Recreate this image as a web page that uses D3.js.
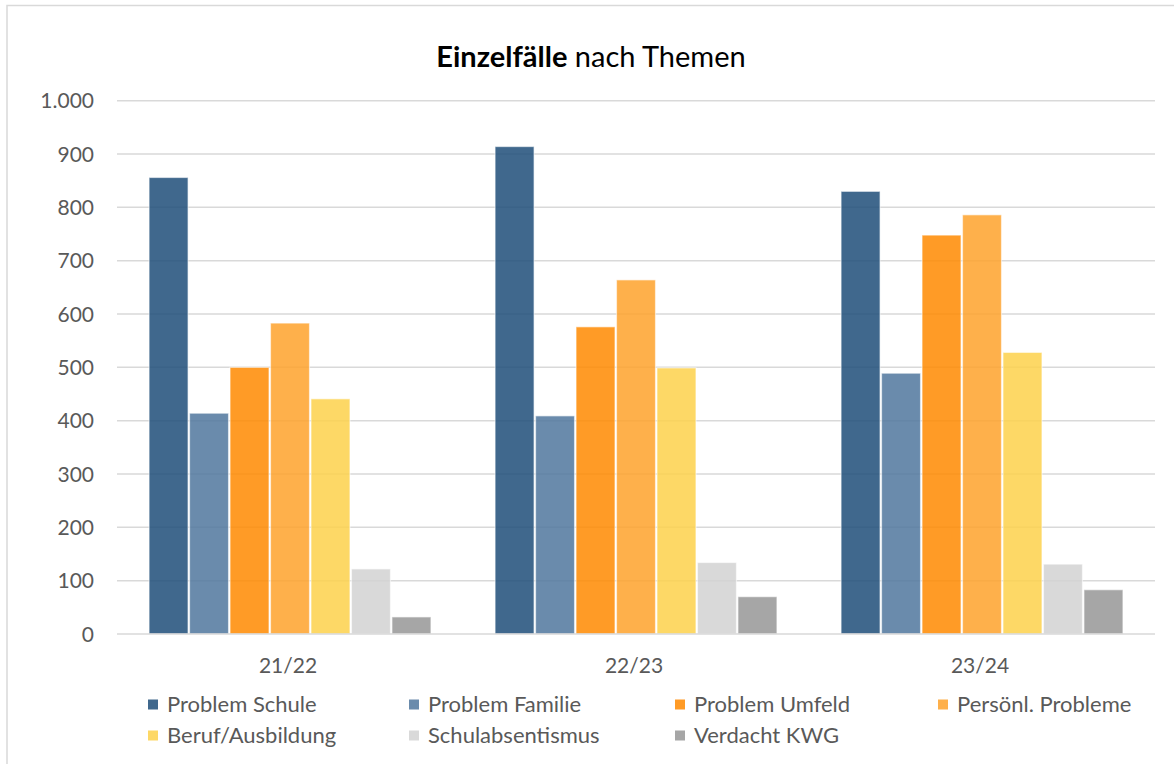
<!DOCTYPE html>
<html>
<head>
<meta charset="utf-8">
<script src="https://cdn.jsdelivr.net/npm/d3@7"></script>
<style>
  html, body { margin: 0; padding: 0; background: #fff; }
  svg { display: block; font-family: Lato, "Open Sans", sans-serif; }
</style>
</head>
<body>
<svg id="chart" width="1174" height="764"></svg>
<script>
const categories = ["21/22", "22/23", "23/24"];
const seriesNames = ["Problem Schule", "Problem Familie", "Problem Umfeld", "Persönl. Probleme", "Beruf/Ausbildung", "Schulabsentismus", "Verdacht KWG"];
const problemSchule   = [856, 914, 830];
const problemFamilie  = [414, 409, 489];
const problemUmfeld   = [500, 576, 748];
const persoenlProbleme= [583, 664, 786];
const berufAusbildung = [441, 499, 528];
const schulabsentismus= [122, 134, 131];
const verdachtKWG     = [32, 70, 83];
const yTicks = [0, 100, 200, 300, 400, 500, 600, 700, 800, 900, 1000];
const colors = ["#1F4E79", "#50779E", "#FF8A00", "#FEA22C", "#FDD14B", "#D2D2D2", "#969696"];

const seriesValues = [problemSchule, problemFamilie, problemUmfeld, persoenlProbleme, berufAusbildung, schulabsentismus, verdachtKWG];
const data = categories.map((c, i) => ({
  cat: c,
  vals: seriesNames.map((s, j) => ({ name: s, value: seriesValues[j][i], idx: j }))
}));

const svg = d3.select("#chart");
const plotLeft = 117, plotRight = 1155, plotTop = 100.7, plotBottom = 634;

// chart area border
svg.append("path")
  .attr("d", `M7,770 V5.5 H1180`)
  .attr("fill", "none").attr("stroke", "#d9d9d9").attr("stroke-width", 1.5);

const y = d3.scaleLinear().domain([0, 1000]).range([plotBottom, plotTop]);
const x0 = d3.scaleBand().domain(categories).range([plotLeft, plotRight]).padding(0);
const bw = x0.bandwidth();
const x1 = d3.scaleBand().domain(seriesNames).range([bw * 0.0905, bw * (1 - 0.0905)]).padding(0);

// gridlines
svg.append("g").selectAll("line").data(yTicks.filter(t => t > 0)).join("line")
  .attr("x1", plotLeft).attr("x2", plotRight)
  .attr("y1", d => y(d)).attr("y2", d => y(d))
  .attr("stroke", "#d9d9d9").attr("stroke-width", 1.5);

// y labels
const fmt = d3.format(",");
svg.append("g").selectAll("text").data(yTicks).join("text")
  .attr("x", 94).attr("y", d => y(d)).attr("dy", "0.36em")
  .attr("text-anchor", "end").attr("fill", "#595959")
  .attr("font-size", 21)
  .text(d => fmt(d).replace(/,/g, "."));

// bars
const groups = svg.append("g").selectAll("g").data(data).join("g")
  .attr("transform", d => `translate(${x0(d.cat)},0)`);
groups.selectAll("rect").data(d => d.vals).join("rect")
  .attr("x", d => x1(d.name) + 0.75)
  .attr("width", x1.bandwidth() - 1.5)
  .attr("y", d => y(d.value))
  .attr("height", d => y(0) - y(d.value))
  .attr("fill", d => colors[d.idx]).attr("fill-opacity", 0.85)
  .attr("stroke", "#fff").attr("stroke-opacity", 0.55).attr("stroke-width", 1.2);

// baseline axis
svg.append("line").attr("x1", plotLeft).attr("x2", plotRight)
  .attr("y1", y(0)).attr("y2", y(0))
  .attr("stroke", "#d9d9d9").attr("stroke-width", 1.5);

// x labels
svg.append("g").selectAll("text").data(categories).join("text")
  .attr("x", d => x0(d) + bw / 2 - 2).attr("y", 673)
  .attr("text-anchor", "middle").attr("fill", "#595959")
  .attr("font-size", 21)
  .text(d => d);

// title
const title = svg.append("text").attr("x", 591).attr("y", 67)
  .attr("text-anchor", "middle").attr("fill", "#000").attr("font-size", 29);
title.append("tspan").attr("font-weight", "bold").text("Einzelfälle");
title.append("tspan").text(" nach Themen");

// legend
const legX = [148, 409, 675, 938];
const legRows = [712, 743];
const leg = svg.append("g").selectAll("g").data(seriesNames).join("g")
  .attr("transform", (d, i) => `translate(${legX[i % 4]},${legRows[Math.floor(i / 4)]})`);
leg.append("rect").attr("x", 0).attr("y", -12.5).attr("width", 10).attr("height", 10)
  .attr("fill", (d, i) => colors[i]).attr("fill-opacity", 0.85);
leg.append("text").attr("x", 19).attr("y", 0)
  .attr("fill", "#595959").attr("font-size", 22)
  .text(d => d);
</script>
</body>
</html>
